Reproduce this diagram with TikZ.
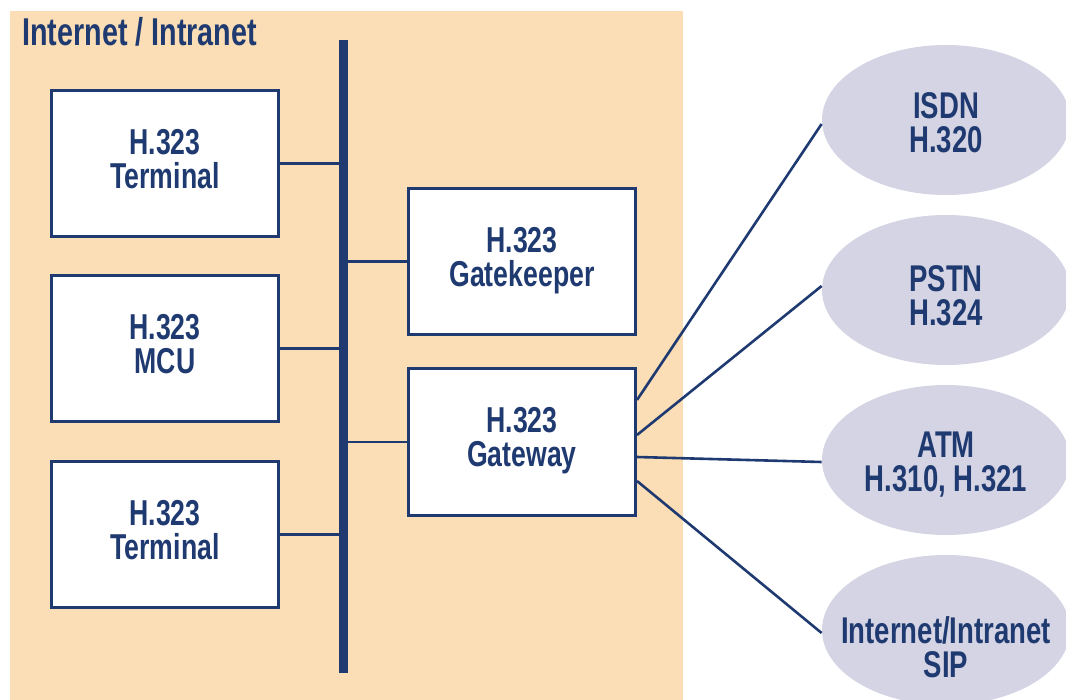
\documentclass[tikz,border=0pt]{standalone}
\usepackage{fontspec}
\setmainfont{Liberation Sans}[FakeStretch=0.74]
\usetikzlibrary{shapes.geometric}
\definecolor{navy}{RGB}{31,58,112}
\definecolor{beige}{RGB}{251,222,182}
\definecolor{lav}{RGB}{212,212,228}
\tikzset{
  lbl/.style={text=navy,font=\fontsize{18}{17}\selectfont\bfseries,align=center},
  netlbl/.style={lbl,font=\fontsize{18.6}{17}\selectfont\bfseries,inner sep=0pt},
  unit/.style={lbl,draw=navy,line width=1.5pt,fill=white,minimum width=113.5pt,minimum height=73pt,inner sep=0pt,text depth=5pt},
  net/.style={ellipse,fill=lav,minimum width=124pt,minimum height=75pt,inner sep=0pt},
  link/.style={draw=navy,line width=1.3pt},
  busline/.style={draw=navy,line width=4.6pt}
}
\begin{document}
\begin{tikzpicture}[x=0.5pt,y=-0.5pt]
\useasboundingbox (0,0) rectangle (1066,700);
\fill[beige] (10,11) rectangle (683,700);
\node[lbl,font=\fontsize{19.4}{17}\selectfont\bfseries,anchor=base west,inner sep=0pt] (title) at (22,46) {Internet / Intranet};
% bus
\coordinate (bt) at (343.5,40);
\coordinate (bb) at (343.5,673);
\draw[busline] (bt) -- (bb);
% units
\node[unit] (term1) at (165,163.5) {H.323\\Terminal};
\node[unit] (mcu)   at (165,348.5) {H.323\\MCU};
\node[unit] (term2) at (165,534.5) {H.323\\Terminal};
\node[unit] (gk)    at (522,261.5) {H.323\\Gatekeeper};
\node[unit] (gw)    at (522,442)   {H.323\\Gateway};
% bus links
\draw[link] (term1.east) -- (term1.east -| bt);
\draw[link] (mcu.east) -- (mcu.east -| bt);
\draw[link] (term2.east) -- (term2.east -| bt);
\draw[link] (gk.west) -- (gk.west -| bt);
\draw[link] (gw.west) -- (gw.west -| bt);
% networks
\node[net] (isdn) at (946,120) {};
\node[net] (pstn) at (946,290) {};
\node[net] (atm)  at (946,460) {};
\node[net] (inet) at (946,630) {};
\node[netlbl] (isdnT) at (946,123) {ISDN\\H.320};
\node[netlbl] (pstnT) at (946,296) {PSTN\\H.324};
\node[netlbl] (atmT)  at (946,465) {ATM\\H.310, H.321};
\node[netlbl] (inetT) at (946,647) {Internet/Intranet\\SIP};
% gateway links
\draw[link] ([yshift=21pt]gw.east) -- ([yshift=-2pt]isdn.west);
\draw[link] ([yshift=3.5pt]gw.east) -- ([yshift=2pt]pstn.west);
\draw[link] ([yshift=-7.5pt]gw.east) -- ([yshift=-1pt]atm.west);
\draw[link] ([yshift=-19.5pt]gw.east) -- ([yshift=-1.5pt]inet.west);
\end{tikzpicture}
\end{document}
